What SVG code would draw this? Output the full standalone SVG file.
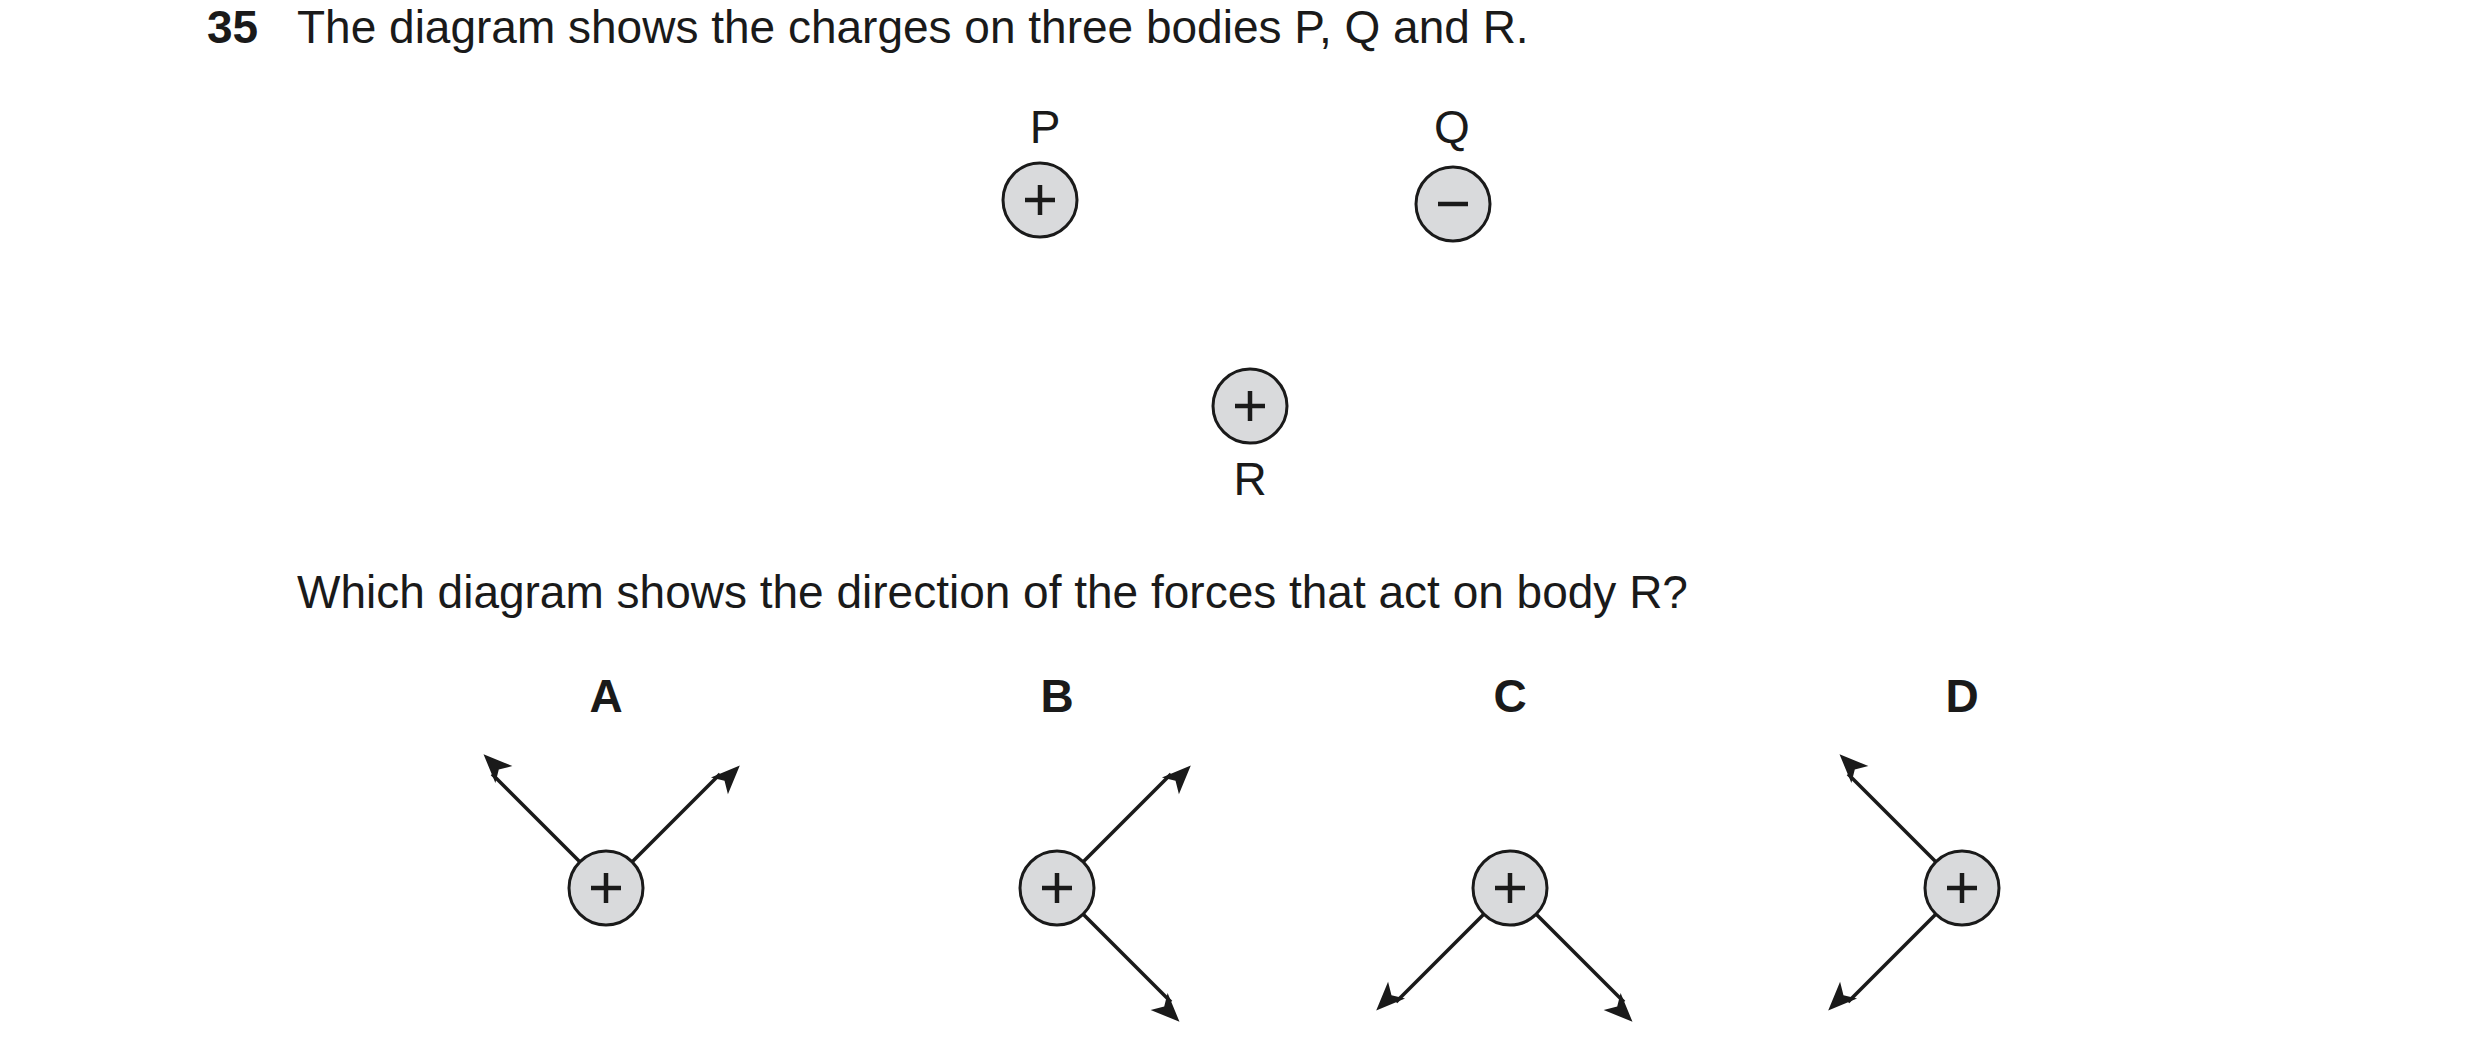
<svg xmlns="http://www.w3.org/2000/svg" width="2480" height="1037" viewBox="0 0 2480 1037">
<style>
text{font-family:"Liberation Sans",Arial,sans-serif;fill:#1a1a1a}
.t{font-size:46px}
.b{font-weight:bold}
.c{fill:#d9dadc;stroke:#1a1a1a;stroke-width:3}
.s{stroke:#1a1a1a;stroke-width:4.5;fill:none}
.a{stroke:#1a1a1a;stroke-width:3.5;fill:none;marker-end:url(#ah)}
</style>
<defs>
<marker id="ah" viewBox="0 0 12 10" refX="11" refY="5" markerWidth="10" markerHeight="8" markerUnits="userSpaceOnUse" orient="auto" style="overflow:visible">
<path d="M0,0 L12,5 L0,10 L3,5 Z" fill="#1a1a1a" transform="scale(3)"/>
</marker>
<g id="plus"><line class="s" x1="-15" y1="0" x2="15" y2="0"/><line class="s" x1="0" y1="-15" x2="0" y2="15"/></g>
</defs>
<rect width="2480" height="1037" fill="#fff"/>
<text class="t b" x="207" y="43">35</text>
<text class="t" x="297" y="43">The diagram shows the charges on three bodies P, Q and R.</text>
<g id="P"><text class="t" x="1045" y="143" text-anchor="middle">P</text><circle class="c" cx="1040" cy="200" r="37"/><use href="#plus" x="1040" y="200"/></g>
<g id="Q"><text class="t" x="1452" y="143" text-anchor="middle">Q</text><circle class="c" cx="1453" cy="204" r="37"/><line class="s" x1="1438" y1="204" x2="1468" y2="204"/></g>
<g id="R"><circle class="c" cx="1250" cy="406" r="37"/><use href="#plus" x="1250" y="406"/><text class="t" x="1250" y="495" text-anchor="middle">R</text></g>
<text class="t" x="297" y="608">Which diagram shows the direction of the forces that act on body R?</text>
<g id="connectors">
<line class="a" x1="580" y1="862" x2="492" y2="774"/>
<line class="a" x1="632" y1="862" x2="720" y2="774"/>
<line class="a" x1="1083" y1="862" x2="1171" y2="774"/>
<line class="a" x1="1083" y1="914" x2="1171" y2="1002"/>
<line class="a" x1="1484" y1="914" x2="1396" y2="1002"/>
<line class="a" x1="1536" y1="914" x2="1624" y2="1002"/>
<line class="a" x1="1936" y1="862" x2="1848" y2="774"/>
<line class="a" x1="1936" y1="914" x2="1848" y2="1002"/>
</g>
<g id="A"><text class="t b" x="606" y="712" text-anchor="middle">A</text><circle class="c" cx="606" cy="888" r="37"/><use href="#plus" x="606" y="888"/></g>
<g id="B"><text class="t b" x="1057" y="712" text-anchor="middle">B</text><circle class="c" cx="1057" cy="888" r="37"/><use href="#plus" x="1057" y="888"/></g>
<g id="C"><text class="t b" x="1510" y="712" text-anchor="middle">C</text><circle class="c" cx="1510" cy="888" r="37"/><use href="#plus" x="1510" y="888"/></g>
<g id="D"><text class="t b" x="1962" y="712" text-anchor="middle">D</text><circle class="c" cx="1962" cy="888" r="37"/><use href="#plus" x="1962" y="888"/></g>
</svg>
